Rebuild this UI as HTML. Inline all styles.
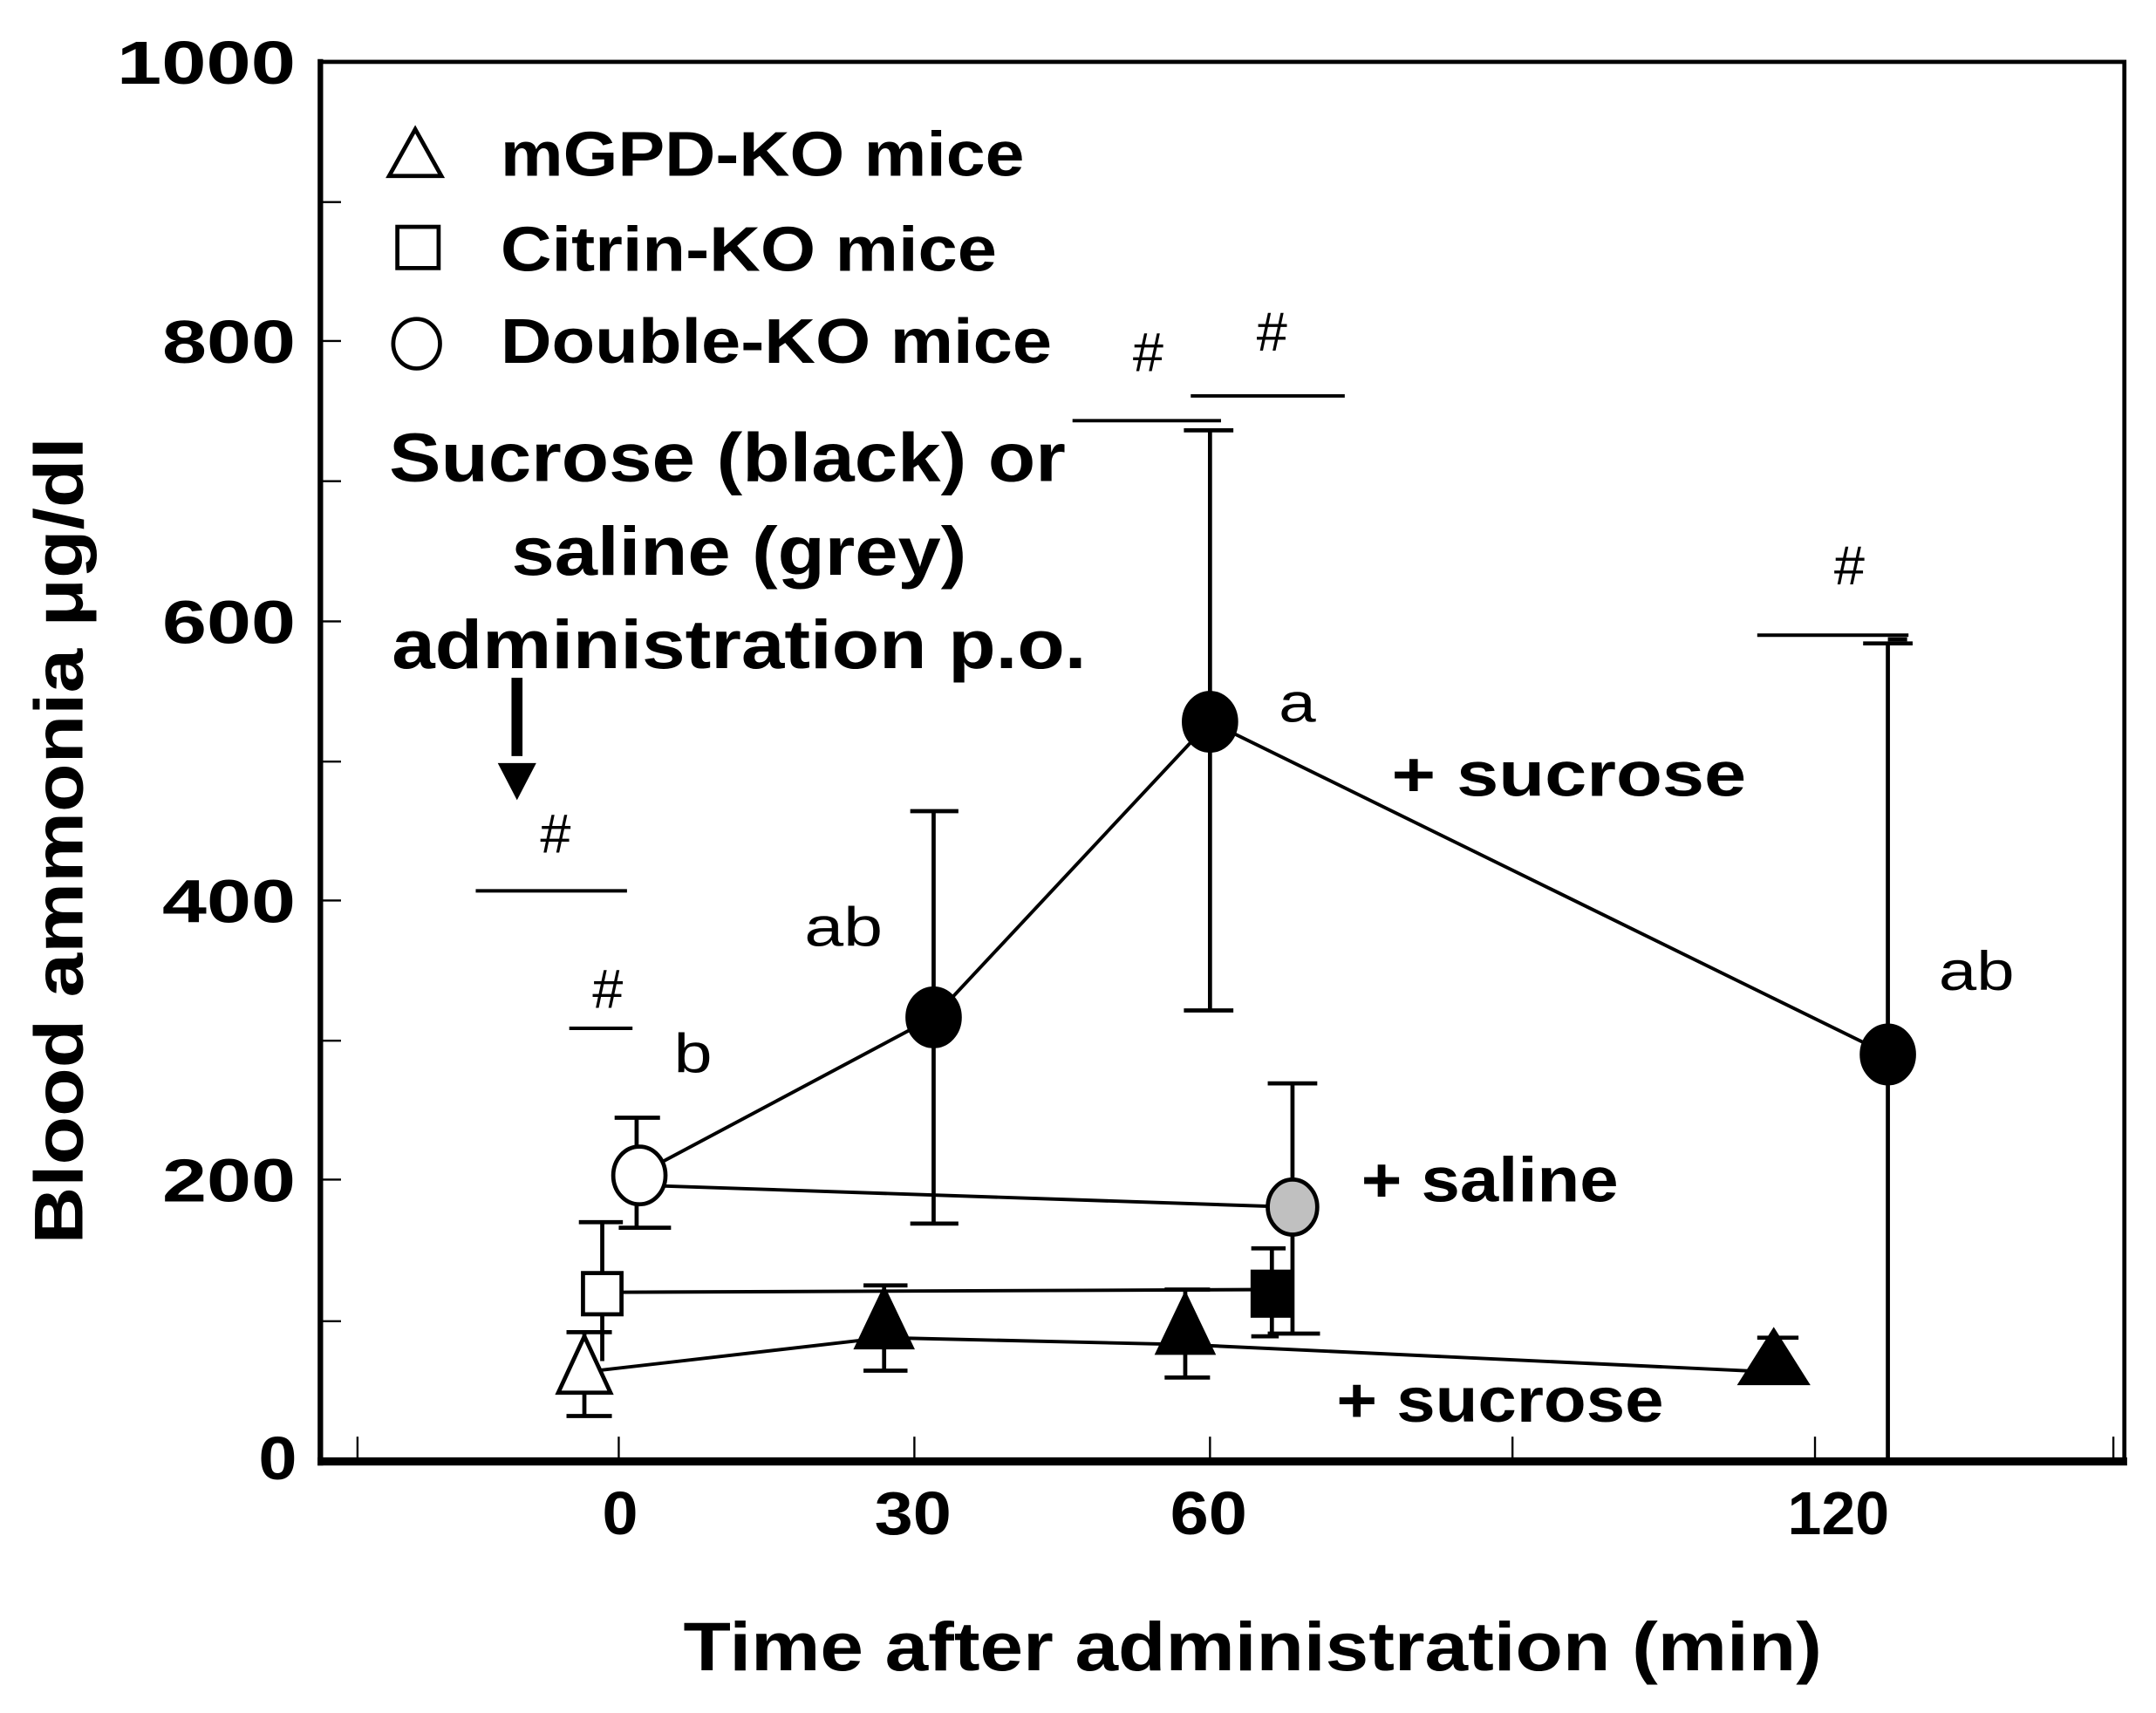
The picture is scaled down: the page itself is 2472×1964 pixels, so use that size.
<!DOCTYPE html>
<html><head><style>
html,body{margin:0;padding:0;background:#fff;}
svg{display:block;}
text{font-family:"Liberation Sans",Arial,sans-serif;}
.b{font-weight:bold;}
</style></head><body>
<svg width="2472" height="1964" viewBox="0 0 1568 1246" preserveAspectRatio="none" xmlns="http://www.w3.org/2000/svg">
<rect width="1568" height="1246" fill="#fff"/>
<rect x="233" y="45" width="1312" height="1018" fill="none" stroke="#000" stroke-width="3"/>
<line x1="231" y1="1063" x2="1547" y2="1063" stroke="#000" stroke-width="6"/>
<line x1="233" y1="43" x2="233" y2="1066" stroke="#000" stroke-width="4"/>
<g stroke="#000" stroke-width="1.5">
<line x1="233" y1="147" x2="248" y2="147"/><line x1="233" y1="248" x2="248" y2="248"/>
<line x1="233" y1="350" x2="248" y2="350"/><line x1="233" y1="452" x2="248" y2="452"/>
<line x1="233" y1="554" x2="248" y2="554"/><line x1="233" y1="655" x2="248" y2="655"/>
<line x1="233" y1="757" x2="248" y2="757"/><line x1="233" y1="858" x2="248" y2="858"/>
<line x1="233" y1="961" x2="248" y2="961"/>
<line x1="260" y1="1045" x2="260" y2="1063"/><line x1="450" y1="1045" x2="450" y2="1063"/>
<line x1="665" y1="1045" x2="665" y2="1063"/><line x1="880" y1="1045" x2="880" y2="1063"/>
<line x1="1100" y1="1045" x2="1100" y2="1063"/><line x1="1320" y1="1045" x2="1320" y2="1063"/>
<line x1="1537" y1="1045" x2="1537" y2="1063"/>
</g>
<g class="b" font-size="44">
<text x="85" y="61" textLength="130" lengthAdjust="spacingAndGlyphs">1000</text>
<text x="118" y="264" textLength="97" lengthAdjust="spacingAndGlyphs">800</text>
<text x="118" y="468" textLength="97" lengthAdjust="spacingAndGlyphs">600</text>
<text x="118" y="671" textLength="97" lengthAdjust="spacingAndGlyphs">400</text>
<text x="118" y="874" textLength="97" lengthAdjust="spacingAndGlyphs">200</text>
<text x="188" y="1076" textLength="28" lengthAdjust="spacingAndGlyphs">0</text>
<text x="438" y="1116" textLength="26" lengthAdjust="spacingAndGlyphs">0</text>
<text x="636" y="1116" textLength="56" lengthAdjust="spacingAndGlyphs">30</text>
<text x="851" y="1116" textLength="56" lengthAdjust="spacingAndGlyphs">60</text>
<text x="1300" y="1116" textLength="74" lengthAdjust="spacingAndGlyphs">120</text>
</g>
<text class="b" x="497" y="1215" font-size="50" textLength="828" lengthAdjust="spacingAndGlyphs">Time after administration  (min)</text>
<text class="b" transform="translate(60,905) rotate(-90)" font-size="50" textLength="587" lengthAdjust="spacingAndGlyphs">Blood  ammonia  μg/dl</text>
<polygon points="302,94 283,128 321,128" fill="none" stroke="#000" stroke-width="3"/>
<rect x="289" y="165" width="30" height="30" fill="none" stroke="#000" stroke-width="3"/>
<ellipse cx="303" cy="250" rx="17" ry="18" fill="none" stroke="#000" stroke-width="3"/>
<g class="b" font-size="46">
<text x="364" y="128" textLength="381" lengthAdjust="spacingAndGlyphs">mGPD-KO mice</text>
<text x="364" y="197" textLength="361" lengthAdjust="spacingAndGlyphs">Citrin-KO mice</text>
<text x="364" y="264" textLength="401" lengthAdjust="spacingAndGlyphs">Double-KO mice</text>
</g>
<g class="b" font-size="50">
<text x="283" y="350" textLength="492" lengthAdjust="spacingAndGlyphs">Sucrose (black) or</text>
<text x="372" y="418" textLength="331" lengthAdjust="spacingAndGlyphs">saline (grey)</text>
<text x="285" y="486" textLength="505" lengthAdjust="spacingAndGlyphs">administration  p.o.</text>
</g>
<line x1="376" y1="493" x2="376" y2="550" stroke="#000" stroke-width="8"/>
<polygon points="362,555 390,555 376,582" fill="#000"/>
<g font-size="40" text-anchor="middle">
<text x="404" y="620">#</text><text x="442" y="733">#</text>
<text x="835" y="270">#</text><text x="925" y="255">#</text><text x="1345" y="425">#</text>
</g>
<g stroke="#000" stroke-width="2.5">
<line x1="346" y1="648" x2="456" y2="648"/><line x1="414" y1="748" x2="460" y2="748"/>
<line x1="780" y1="306" x2="888" y2="306"/><line x1="866" y1="288" x2="978" y2="288"/>
<line x1="1278" y1="462" x2="1388" y2="462"/>
</g>
<g font-size="40">
<text x="490" y="780" textLength="28" lengthAdjust="spacingAndGlyphs">b</text>
<text x="585" y="688" textLength="57" lengthAdjust="spacingAndGlyphs">ab</text>
<text x="930" y="525" textLength="27" lengthAdjust="spacingAndGlyphs">a</text>
<text x="1410" y="720" textLength="55" lengthAdjust="spacingAndGlyphs">ab</text>
</g>
<g class="b" font-size="46">
<text x="1012" y="579" textLength="258" lengthAdjust="spacingAndGlyphs">+ sucrose</text>
<text x="990" y="874" textLength="187" lengthAdjust="spacingAndGlyphs">+ saline</text>
<text x="972" y="1034" textLength="238" lengthAdjust="spacingAndGlyphs">+ sucrose</text>
</g>
<g stroke="#000" stroke-width="3" fill="none">
<path d="M679,590V890M662,590H697M662,890H697"/>
<path d="M880,313V735M861,313H897M861,735H897"/>
<path d="M1373,468V1063M1355,468H1391"/>
<path d="M1373,465H1387"/>
<path d="M463,813V893M447,813H480M450,893H488"/>
<path d="M940,788V970M922,788H958M922,970H960"/>
<path d="M438,889V990M421,889H453"/>
<path d="M925,908V972M910,908H935M910,972H930"/>
<path d="M425,969V1030M412,969H445M412,1030H445"/>
<path d="M643,935V997M628,935H660M628,997H660"/>
<path d="M862,938V1002M847,938H880M847,1002H880"/>
<path d="M1290,973V990M1278,973H1308"/>
</g>
<g stroke="#000" stroke-width="2.5" fill="none">
<polyline points="463,855 679,740 880,525 1373,767"/>
<polyline points="463,862 940,878"/>
<polyline points="438,940 925,938"/>
<polyline points="425,998 643,973 862,978 1290,998"/>
</g>
<g stroke="#000" stroke-width="3">
<ellipse cx="679" cy="740" rx="19" ry="21" fill="#000"/>
<ellipse cx="880" cy="525" rx="19" ry="21" fill="#000"/>
<ellipse cx="1373" cy="767" rx="19" ry="21" fill="#000"/>
<ellipse cx="465" cy="855" rx="19" ry="21" fill="#fff"/>
<ellipse cx="940" cy="878" rx="18" ry="20" fill="#c0c0c0"/>
<rect x="424" y="926" width="28" height="30" fill="#fff"/>
<rect x="911" y="925" width="28" height="32" fill="#000"/>
<polygon points="425,972 406,1013 444,1013" fill="#fff"/>
<polygon points="643,938 623,980 663,980" fill="#000"/>
<polygon points="862,942 842,984 882,984" fill="#000"/>
<polygon points="1290,968 1266,1006 1314,1006" fill="#000"/>
</g>
</svg>
</body></html>
